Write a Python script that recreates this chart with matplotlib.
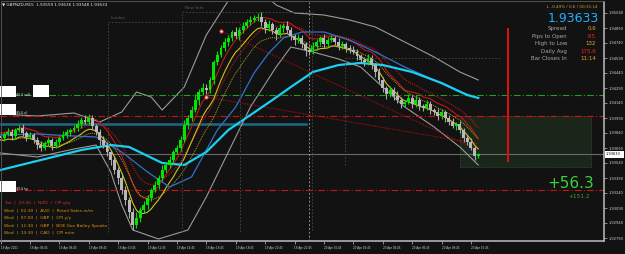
import matplotlib
matplotlib.use("Agg")
import matplotlib.pyplot as plt
from matplotlib.patches import Rectangle
import numpy as np
import pandas as pd

# ---- data: GBPNZD M15, 19 Apr 02:45 .. 20 Apr 11:15 ----
first_open = 1.9381
closes = [
    1.9379, 1.9383, 1.9385, 1.9381, 1.9387, 1.9389, 1.9384, 1.9380, 1.9382, 1.9377,
    1.9372, 1.9369, 1.9374, 1.9377, 1.9371, 1.9375, 1.9379, 1.9382, 1.9385, 1.9387,
    1.9389, 1.9393, 1.9397, 1.9395, 1.9399, 1.9391, 1.9385, 1.9377, 1.9372, 1.9365,
    1.9357, 1.9347, 1.9339, 1.9327, 1.9317, 1.9305, 1.9292, 1.9299, 1.9307, 1.9312,
    1.9319, 1.9327, 1.9332, 1.9339, 1.9347, 1.9352, 1.9357, 1.9365, 1.9369, 1.9377,
    1.9392, 1.9399, 1.9407, 1.9417, 1.9425, 1.9429, 1.9427, 1.9437, 1.9455, 1.9462,
    1.9469, 1.9475, 1.9479, 1.9485, 1.9481, 1.9487, 1.9491, 1.9495, 1.9497, 1.9499,
    1.9500, 1.9495, 1.9489, 1.9493, 1.9487, 1.9483, 1.9489, 1.9491, 1.9487, 1.9481,
    1.9477, 1.9479, 1.9473, 1.9467, 1.9465, 1.9471, 1.9475, 1.9479, 1.9473, 1.9477,
    1.9479, 1.9475, 1.9471, 1.9473, 1.9469, 1.9467, 1.9465, 1.9461, 1.9457, 1.9455,
    1.9459, 1.9452, 1.9445, 1.9437, 1.9429, 1.9423, 1.9427, 1.9421, 1.9417, 1.9413,
    1.9415, 1.9419, 1.9413, 1.9417, 1.9411, 1.9409, 1.9413, 1.9407, 1.9405, 1.9401,
    1.9405, 1.9399, 1.9395, 1.9391, 1.9393, 1.9387, 1.9379, 1.9375, 1.9369, 1.9361,
    1.93633,
]
# wick lengths in pips above / below the body
up_wick = [
    3, 2, 4, 3, 2, 3, 4, 2, 3, 2,
    3, 4, 2, 3, 2, 3, 2, 4, 3, 2,
    3, 4, 3, 5, 4, 3, 2, 3, 4, 3,
    2, 4, 3, 5, 4, 3, 4, 6, 3, 4,
    3, 2, 4, 3, 5, 3, 4, 2, 3, 4,
    5, 3, 4, 6, 3, 5, 4, 3, 2, 4,
    3, 4, 3, 2, 5, 3, 4, 3, 4, 3,
    4, 5, 3, 4, 2, 3, 4, 3, 5, 3,
    2, 4, 3, 2, 3, 4, 3, 2, 4, 3,
    3, 2, 4, 3, 2, 3, 4, 3, 2, 3,
    4, 3, 2, 4, 3, 2, 4, 3, 5, 3,
    2, 4, 3, 5, 3, 2, 4, 3, 2, 4,
    3, 2, 3, 4, 2, 3, 2, 3, 4, 2,
    1,
]
dn_wick = [
    2, 3, 2, 4, 3, 2, 3, 4, 2, 3,
    4, 3, 2, 3, 4, 2, 3, 2, 3, 4,
    2, 3, 4, 2, 3, 4, 3, 5, 3, 4,
    5, 4, 6, 4, 5, 6, 5, 3, 4, 3,
    4, 3, 2, 4, 3, 2, 3, 4, 2, 3,
    2, 4, 3, 2, 5, 3, 4, 3, 4, 3,
    2, 3, 4, 3, 2, 4, 3, 2, 3, 2,
    3, 4, 5, 3, 4, 6, 3, 4, 3, 4,
    5, 3, 4, 6, 3, 2, 4, 3, 4, 3,
    2, 3, 4, 3, 4, 3, 2, 4, 3, 4,
    3, 4, 5, 3, 4, 5, 3, 4, 3, 4,
    3, 2, 4, 3, 4, 3, 2, 4, 3, 4,
    3, 4, 3, 2, 4, 3, 4, 3, 2, 4,
    2,
]

# long MA (cyan), mid MA (blue) and bands: (bar, price)
cyan_bar = [0, 11, 22, 30, 35, 44, 50, 56, 62, 68, 74, 79, 85, 92, 98, 104, 112, 120, 127, 130]
cyan_px = [1.9347, 1.9357, 1.9367, 1.9372, 1.9370, 1.9354, 1.9352, 1.9365, 1.9387, 1.9402,
           1.9417, 1.9430, 1.9445, 1.9452, 1.9454, 1.9452, 1.9445, 1.9434, 1.9422, 1.9419]
blue_bar = [0, 10, 20, 26, 33, 40, 46, 52, 59, 64, 69, 73, 77, 82, 88, 95, 102, 110, 118, 125, 130]
blue_px = [1.9382, 1.9383, 1.9381, 1.9380, 1.9365, 1.9345, 1.9330, 1.9340, 1.9387, 1.9410,
           1.9444, 1.9464, 1.9479, 1.9485, 1.9485, 1.9477, 1.9465, 1.9450, 1.9437, 1.9425, 1.9419]
bb_up_bar = [0, 10, 20, 27, 33, 37, 41, 44, 50, 56, 60, 63, 72, 75, 80, 88, 95, 102, 110, 118, 125, 130]
bb_up_px = [1.9403, 1.9401, 1.9404, 1.9395, 1.9405, 1.9425, 1.9420, 1.9407, 1.9430, 1.9482,
            1.9505, 1.9522, 1.9522, 1.9512, 1.9504, 1.9502, 1.9497, 1.9490, 1.9475, 1.9460,
            1.9445, 1.9437]
bb_lo_bar = [0, 10, 20, 26, 30, 33, 36, 43, 51, 56, 62, 68, 75, 79, 85, 92, 98, 104, 110, 118, 125, 130]
bb_lo_px = [1.9364, 1.9360, 1.9368, 1.9372, 1.9345, 1.9312, 1.9287, 1.9278, 1.9287, 1.9320,
            1.9365, 1.9410, 1.9450, 1.9470, 1.9465, 1.9458, 1.9450, 1.9430, 1.9410, 1.9390,
            1.9370, 1.9352]

# manually drawn levels and objects
sell_level, sl_level, tp_level = 1.9422, 1.9401, 1.9327
teal_level = 1.9393
bid = 1.93633
trend_a = ([60, 130], [1.9486, 1.9367])
trend_b = ([56, 130], [1.9420, 1.9373])

y_ticks = [1.92790 + 0.0015 * k for k in range(16)]
x_tick_bars = list(range(0, 129, 8))
x_tick_labels = ["19 Apr 2021", "19 Apr 04:45", "19 Apr 06:45", "19 Apr 08:45", "19 Apr 10:45",
                 "19 Apr 12:45", "19 Apr 14:45", "19 Apr 16:45", "19 Apr 18:45", "19 Apr 20:45",
                 "19 Apr 22:45", "20 Apr 00:45", "20 Apr 02:45", "20 Apr 04:45", "20 Apr 06:45",
                 "20 Apr 08:45", "20 Apr 10:45"]

news = [("Tue  |  23:45  |  NZD  |  CPI q/q", "#d8322a"),
        ("Wed  |  02:30  |  AUD  |  Retail Sales m/m", "#e0900e"),
        ("Wed  |  07:00  |  GBP  |  CPI y/y", "#e0900e"),
        ("Wed  |  11:30  |  GBP  |  BOE Gov Bailey Speaks", "#e0900e"),
        ("Wed  |  13:30  |  CAD  |  CPI m/m", "#e0900e")]
panel = [("Spread", "0.6", "#f0a020"), ("Pips to Open", "-85", "#ff2020"),
         ("High to Low", "132", "#f0b020"), ("Daily Avg", "175.6", "#ff2020"),
         ("Bar Closes In", "11:14", "#f0a020")]

# ---- figure ----
W, H = 625, 254
BG = "#121212"
PX = 3.675  # pixels per bar
fig = plt.figure(figsize=(W / 100, H / 100), dpi=100, facecolor=BG)
ax = fig.add_axes([0, (H - 241) / H, 604 / W, 239 / H], facecolor=BG)
ax.set_xlim(-0.5 / PX, 603.5 / PX)
ax.set_ylim(1.9517 - 0.0241, 1.9517 - 0.0002)

c = np.array(closes)
o = np.concatenate([[first_open], c[:-1]])
hi = np.maximum(o, c) + np.array(up_wick) * 0.0001
lo = np.minimum(o, c) - np.array(dn_wick) * 0.0001
x = np.arange(len(c))
bull = c >= o

# short averages on highs / lows
hs, ls = pd.Series(hi), pd.Series(lo)
ax.plot(x, hs.ewm(span=6, adjust=False).mean(), color="#c01818", lw=0.8, zorder=3)
ax.plot(x, hs.ewm(span=12, adjust=False).mean(), color="#c01818", lw=0.8, ls=(0, (1, 1)), zorder=3)
ax.plot(x, ls.ewm(span=6, adjust=False).mean(), color="#d8c020", lw=0.8, zorder=3)
ax.plot(x, ls.ewm(span=12, adjust=False).mean(), color="#b8a020", lw=0.7, ls=(0, (1, 1)), zorder=3)

ax.plot(bb_up_bar, bb_up_px, color="#9a9a9a", lw=0.8, zorder=2)
ax.plot(bb_lo_bar, bb_lo_px, color="#9a9a9a", lw=0.8, zorder=2)
ax.plot(blue_bar, blue_px, color="#2f72c8", lw=0.9, zorder=3)
ax.plot(cyan_bar, cyan_px, color="#1ad0f0", lw=1.6, zorder=3)

# candles
ax.vlines(x[bull], lo[bull], hi[bull], color="#00e000", lw=0.8, zorder=4)
ax.vlines(x[~bull], lo[~bull], hi[~bull], color="#a8a8a8", lw=0.8, zorder=4)
body = np.maximum(np.abs(c - o), 0.00008)
ax.bar(x[bull], body[bull], 0.8, bottom=np.minimum(o, c)[bull], color="#00e600", lw=0, zorder=5)
ax.bar(x[~bull], body[~bull], 0.8, bottom=np.minimum(o, c)[~bull], color="#b8b8b8", lw=0, zorder=5)

# levels
ax.axhline(sell_level, color="#1fa01f", lw=0.8, ls=(0, (6, 2, 1, 2)), zorder=2)
ax.axhline(sl_level, color="#c81414", lw=0.8, ls=(0, (6, 2, 1, 2)), zorder=2)
ax.axhline(tp_level, color="#c81414", lw=0.8, ls=(0, (6, 2, 1, 2)), zorder=2)
ax.plot([0, 83], [teal_level, teal_level], color="#1d6a88", lw=1.8, zorder=1)
ax.axhline(bid, color="#6a6a6a", lw=0.8, zorder=1)
ax.plot(*trend_a, color="#b01010", lw=0.8, ls=(0, (1, 1.2)), zorder=2)
ax.plot(*trend_b, color="#b01010", lw=0.8, ls=(0, (1, 1.2)), zorder=2)
ax.plot([trend_a[0][0], trend_b[0][0]], [trend_a[1][0], trend_b[1][0]], "o", ms=2.5,
        mfc="#ffd0d0", mec="#d02020", mew=0.6, zorder=6)
ax.axvline(84, color="#8a8a8a", lw=0.7, ls=(0, (2, 2)), zorder=1)
ax.vlines(138.2, 1.9355, 1.9489, color="#e01010", lw=1.4, zorder=6)
ax.add_patch(Rectangle((125, 1.9350), 35.6, 0.0051, facecolor="#1b261b", edgecolor="#3b4a3b",
                       lw=0.6, ls=(0, (1, 1)), zorder=0))

ax.set_xticks(x_tick_bars)
ax.set_xticklabels(x_tick_labels, ha="left", fontsize=2.0, color="#d0d0d0")
ax.set_yticks(y_ticks)
ax.set_yticklabels([f"{v:.5f}" for v in y_ticks], fontsize=2.6, color="#d0d0d0")
ax.yaxis.tick_right()
ax.tick_params(axis="x", length=2, width=0.5, color="#c0c0c0", pad=1.5)
ax.tick_params(axis="y", length=2, width=0.5, color="#c0c0c0", pad=1)
for s in ["top", "left"]:
    ax.spines[s].set_visible(False)
for s in ["bottom", "right"]:
    ax.spines[s].set_color("#b0b0b0")
    ax.spines[s].set_linewidth(1.2)

# ---- overlay in pixel coordinates ----
ov = fig.add_axes([0, 0, 1, 1], facecolor="none")
ov.set_xlim(0, W)
ov.set_ylim(H, 0)
ov.axis("off")

ov.plot([1, 1, 604], [241, 1, 1], color="#5a5a5a", lw=0.6)
ov.text(2, 5, "\u25bc GBPNZD,M15  1.93559 1.93636 1.93548 1.93633", fontsize=3,
        color="#e8e8e8", va="center", ha="left")

# session boxes
for (x0, y0, x1, name) in [(108, 22, 240, "London"), (182, 12, 312, "New York")]:
    ov.plot([x0, x0, x1, x1], [232, y0, y0, 232], color="#4a4a4a", lw=0.6, ls=(0, (2, 2)))
    ov.text(x0 + 3, y0 - 4, name, fontsize=3, color="#5a5a5a", va="center")
ov.plot([345, 345, 500], [165, 58, 58], color="#4a4a4a", lw=0.6, ls=(0, (2, 2)))

# order labels
for yy, lab in [(92, "$54 sell"), (110, "$54 sl"), (187, "$54 tp")]:
    ov.add_patch(Rectangle((0, yy - 6), 16, 11, facecolor="white", lw=0))
    ov.text(16, yy + 2, lab, fontsize=2.6, color="#e0e0e0", va="center")
ov.add_patch(Rectangle((33, 85), 16, 12, facecolor="white", lw=0))

# news
for k, (t, col) in enumerate(news):
    ov.text(4, 203 + 7.5 * k, t, fontsize=3.2, color=col, va="center")

# info panel
ov.text(597, 6.5, "\u2193 -0.49% / 0.6 / 00:31:14", fontsize=3, color="#d8a020", ha="right", va="center")
ov.text(599, 18.5, "1.93633", fontsize=9, color="#1fb0ff", ha="right", va="center")
for k, (lab, val, col) in enumerate(panel):
    yy = 28.5 + 7.6 * k
    ov.text(567, yy, lab, fontsize=4, color="#a8a8a8", ha="right", va="center")
    ov.text(596, yy, val, fontsize=4, color=col, ha="right", va="center")
ov.text(594, 184, "+56.3", fontsize=11, color="#3ad03a", ha="right", va="center")
ov.text(590, 196, "+151.2", fontsize=4.2, color="#3aa03a", ha="right", va="center")

# current price tag on the axis
ov.add_patch(Rectangle((605, 151), 19, 6.5, facecolor="white", lw=0))
ov.text(606, 154.3, "1.93633", fontsize=2.6, color="black", va="center")

fig.savefig("out.png", dpi=100, facecolor=BG)
